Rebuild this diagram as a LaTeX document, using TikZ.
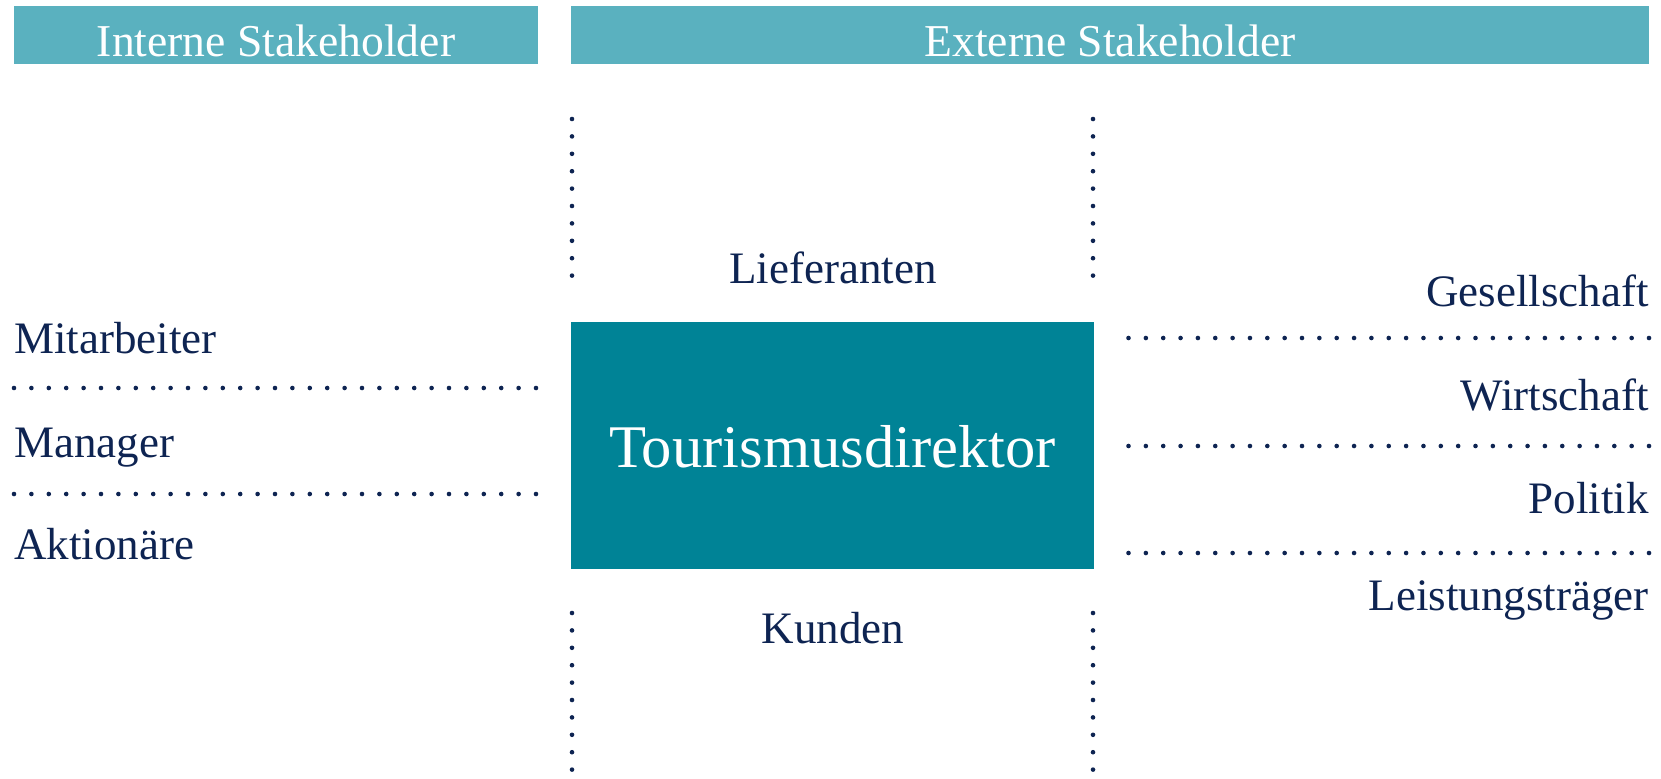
\documentclass[tikz,border=0pt]{standalone}
\usepackage{fontspec}
\setmainfont{Liberation Serif}
\usepackage{xcolor}
\usetikzlibrary{calc,positioning}
\definecolor{headteal}{HTML}{5AB1BF}
\definecolor{boxteal}{HTML}{008396}
\definecolor{navy}{HTML}{0E2452}

\begin{document}
\begin{tikzpicture}[x=0.5pt,y=-0.5pt,
		head/.style={text=white,inner sep=0pt,font=\fontsize{22.8}{27}\selectfont},
		lbl/.style={text=navy,inner sep=0pt,font=\fontsize{22.5}{27}\selectfont},
		dots/.style={navy,line width=2.3pt,line cap=round,dash pattern=on 0pt off 8.7pt}]
			\useasboundingbox (0,0) rectangle (1661,778);
			% headers
			\fill[headteal] (14,6) coordinate (inw) rectangle (538,64) coordinate (ise);
			\fill[headteal] (571,6) coordinate (enw) rectangle (1649,64) coordinate (ese);
			\node[head,anchor=base] (intern) at ($(inw)!0.5!(ise) + (0,21)$) {Interne Stakeholder};
			\node[head,anchor=base] (extern) at ($(enw)!0.5!(ese) + (0,21)$) {Externe Stakeholder};
			
			% centre box
			\fill[boxteal] (571,322) coordinate (cnw) rectangle (1094,569) coordinate (cse);
			\node[text=white,inner sep=0pt,anchor=base,font=\fontsize{30.3}{36}\selectfont] (direktor) at ($(cnw)!0.5!(cse) + (0,22)$) {Tourismusdirektor};
			\node[lbl,anchor=base] (lief) at (833,283) {Lieferanten};
			\node[lbl,anchor=base] (kunden) at (833,643) {Kunden};
			\foreach \x in {572,1093} {
				\draw[dots] (\x,119) -- (\x,284);
				\draw[dots] (\x,613) -- (\x,778);
			};
			
			% internal
			\foreach \y/\name/\txt in {353/mit/Mitarbeiter,457/man/Manager,559/akt/Aktionäre}
				\node[lbl,anchor=base west] (\name) at (14,\y) {\txt};
			\foreach \y in {388,494}
				\draw[dots] (14,\y) -- (538,\y);
			
			% external
			\foreach \y/\name/\txt in {306/ges/Gesellschaft,410/wirt/Wirtschaft,513/pol/Politik,610/leist/Leistungsträger}
				\node[lbl,anchor=base east] (\name) at (1649,\y) {\txt};
			\foreach \y in {338,446,553}
				\draw[dots,dash pattern=on 0pt off 8.675pt] (1649,\y) -- (1128,\y);
	\end{tikzpicture}
\end{document}
